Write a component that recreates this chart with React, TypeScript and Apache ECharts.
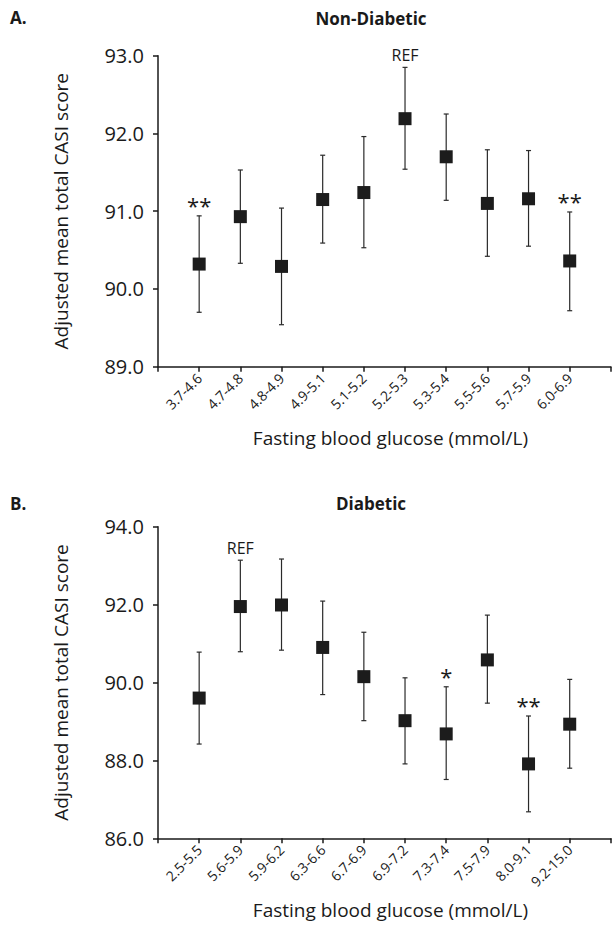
import React, { useEffect, useRef } from "react";
import * as echarts from "echarts";

const catsA = ["3.7-4.6", "4.7-4.8", "4.8-4.9", "4.9-5.1", "5.1-5.2", "5.2-5.3", "5.3-5.4", "5.5-5.6", "5.7-5.9", "6.0-6.9"];
const meanA = [90.32, 90.93, 90.29, 91.15, 91.24, 92.19, 91.70, 91.10, 91.16, 90.36];
const lowA = [89.70, 90.33, 89.54, 90.59, 90.53, 91.54, 91.14, 90.42, 90.55, 89.72];
const highA = [90.94, 91.53, 91.04, 91.72, 91.96, 92.85, 92.25, 91.79, 91.78, 90.99];
const marksA = ["**", "", "", "", "", "REF", "", "", "", "**"];

const catsB = ["2.5-5.5", "5.6-5.9", "5.9-6.2", "6.3-6.6", "6.7-6.9", "6.9-7.2", "7.3-7.4", "7.5-7.9", "8.0-9.1", "9.2-15.0"];
const meanB = [89.60, 91.95, 91.99, 90.90, 90.15, 89.02, 88.68, 90.58, 87.91, 88.93];
const lowB = [88.42, 90.79, 90.83, 89.69, 89.02, 87.91, 87.51, 89.47, 86.68, 87.80];
const highB = [90.78, 93.14, 93.17, 92.09, 91.29, 90.12, 89.89, 91.73, 89.14, 90.08];
const marksB = ["", "REF", "", "", "", "", "*", "", "**", ""];

const yTicksA = { min: 89, max: 93, interval: 1 };
const yTicksB = { min: 86, max: 94, interval: 2 };

const FONT = "Open Sans";
const TXT = "#1a1a1a";

export default function App() {
  const ref = useRef<HTMLDivElement>(null);
  useEffect(() => {
    if (!ref.current) return;
    const chart = echarts.init(ref.current, undefined, { renderer: "svg" });

    const xAxis = (cats: string[], gridIndex: number) => ({
      type: "value",
      gridIndex,
      min: 0,
      max: cats.length + 1,
      interval: 1,
      name: "Fasting blood glucose (mmol/L)",
      nameLocation: "middle",
      nameGap: 62,
      nameTextStyle: { fontFamily: FONT, fontSize: 19, color: TXT, padding: [0, 0, 0, 12] },
      axisLine: { show: true, lineStyle: { color: "#1a1a1a", width: 1.5 } },
      axisTick: { show: true, length: 5, lineStyle: { color: "#1a1a1a", width: 1.5 } },
      splitLine: { show: false },
      axisLabel: {
        rotate: 45,
        margin: 9,
        fontFamily: FONT,
        fontSize: 14,
        color: TXT,
        showMinLabel: true,
        showMaxLabel: true,
        formatter: (v: number) => cats[v - 1] || "",
      },
    });

    const yAxis = (t: { min: number; max: number; interval: number }, gridIndex: number) => ({
      type: "value",
      gridIndex,
      min: t.min,
      max: t.max,
      interval: t.interval,
      name: "Adjusted mean total CASI score",
      nameLocation: "middle",
      nameGap: 88,
      nameTextStyle: { fontFamily: FONT, fontSize: 19, color: TXT },
      axisLine: { show: true, lineStyle: { color: "#1a1a1a", width: 1.5 } },
      axisTick: { show: true, length: 5, lineStyle: { color: "#1a1a1a", width: 1.5 } },
      splitLine: { show: false },
      axisLabel: {
        margin: 14,
        fontFamily: FONT,
        fontSize: 20,
        color: TXT,
        formatter: (v: number) => v.toFixed(1),
      },
    });

    const errSeries = (low: number[], high: number[], idx: number) => ({
      type: "custom",
      xAxisIndex: idx,
      yAxisIndex: idx,
      z: 2,
      data: low.map((l, i) => [i + 1, l, high[i]]),
      renderItem: (params: any, api: any) => {
        const x = api.value(0);
        const pLo = api.coord([x, api.value(1)]);
        const pHi = api.coord([x, api.value(2)]);
        const cap = 2.5;
        const st = { stroke: "#2a2a2a", lineWidth: 1.2 };
        return {
          type: "group",
          children: [
            { type: "line", shape: { x1: pLo[0], y1: pLo[1], x2: pHi[0], y2: pHi[1] }, style: st },
            { type: "line", shape: { x1: pLo[0] - cap, y1: pLo[1], x2: pLo[0] + cap, y2: pLo[1] }, style: st },
            { type: "line", shape: { x1: pHi[0] - cap, y1: pHi[1], x2: pHi[0] + cap, y2: pHi[1] }, style: st },
          ],
        };
      },
    });

    const meanSeries = (mean: number[], idx: number) => ({
      type: "scatter",
      xAxisIndex: idx,
      yAxisIndex: idx,
      z: 3,
      symbol: "rect",
      symbolSize: 13,
      itemStyle: { color: "#1c1c1c", opacity: 1 },
      data: mean.map((m, i) => [i + 1, m]),
    });

    const markSeries = (marks: string[], high: number[], idx: number) => ({
      type: "scatter",
      xAxisIndex: idx,
      yAxisIndex: idx,
      z: 4,
      symbolSize: 1,
      itemStyle: { color: "rgba(0,0,0,0)", opacity: 1 },
      silent: true,
      data: marks
        .map((s, i) => ({
          value: [i + 1, high[i]],
          label: {
            show: s !== "",
            position: "inside",
            formatter: s,
            fontFamily: FONT,
            fontSize: s === "REF" ? 16 : 22,
            color: TXT,
            offset: [0, s === "REF" ? -12 : -11],
          },
        }))
        .filter((d) => d.label.show),
    });

    chart.setOption({
      animation: false,
      backgroundColor: "#ffffff",
      title: [
        { text: "A.", left: 10, top: 9, padding: 0, textStyle: { fontFamily: FONT, fontSize: 17, fontWeight: "bold", color: TXT } },
        { text: "Non-Diabetic", left: 371, top: 10, textAlign: "center", padding: 0, textStyle: { fontFamily: FONT, fontSize: 17, fontWeight: "bold", color: TXT } },
        { text: "B.", left: 10, top: 495, padding: 0, textStyle: { fontFamily: FONT, fontSize: 17, fontWeight: "bold", color: TXT } },
        { text: "Diabetic", left: 371, top: 495, textAlign: "center", padding: 0, textStyle: { fontFamily: FONT, fontSize: 17, fontWeight: "bold", color: TXT } },
      ],
      grid: [
        { left: 158, top: 55.7, width: 455, height: 311 },
        { left: 158, top: 526.7, width: 455, height: 311.6 },
      ],
      xAxis: [xAxis(catsA, 0), xAxis(catsB, 1)],
      yAxis: [yAxis(yTicksA, 0), yAxis(yTicksB, 1)],
      series: [
        errSeries(lowA, highA, 0),
        meanSeries(meanA, 0),
        markSeries(marksA, highA, 0),
        errSeries(lowB, highB, 1),
        meanSeries(meanB, 1),
        markSeries(marksB, highB, 1),
      ],
    });
    return () => chart.dispose();
  }, []);
  return (
    <div
      ref={ref}
      style={{ position: "absolute", left: 0, top: 0, width: 613, height: 926, background: "#fff" }}
    />
  );
}
